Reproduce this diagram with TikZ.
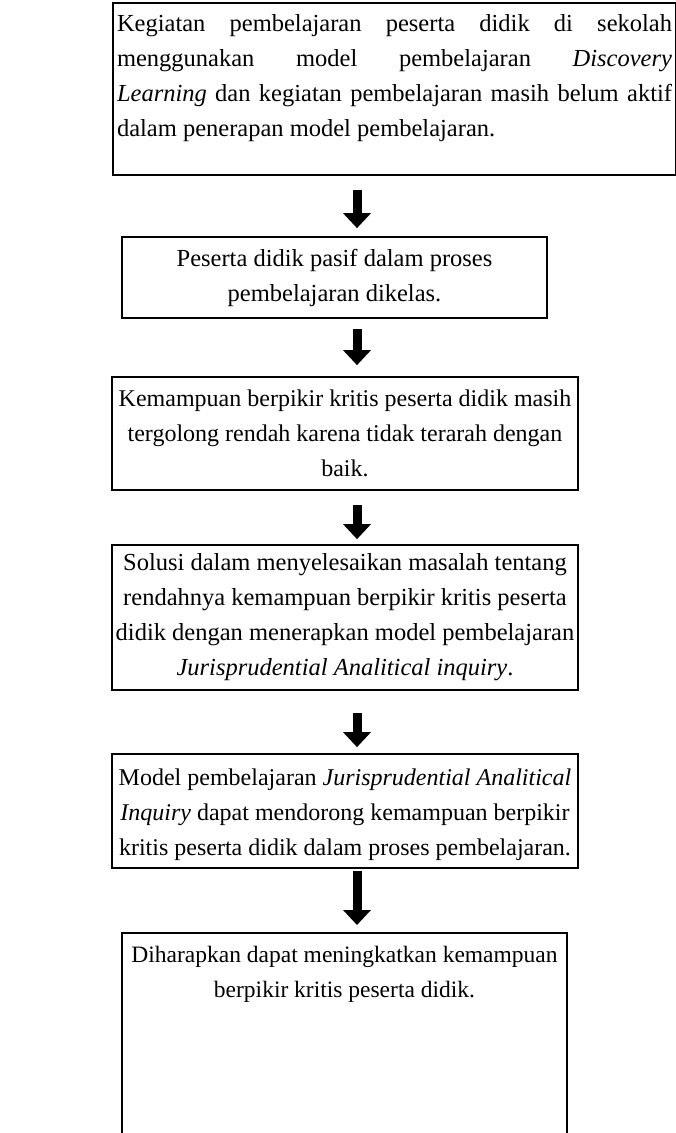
\documentclass[tikz,border=0pt]{standalone}
\usepackage{fontspec}
\setmainfont{Liberation Serif}
\usetikzlibrary{arrows.meta,calc}
\begin{document}
\begin{tikzpicture}[x=1pt,y=-1pt,
  box/.style={draw, line width=1.7pt, inner xsep=0pt, inner ysep=0pt, align=center,
    font=\fontsize{24}{35}\selectfont},
  arr/.style={line width=9pt, -{Triangle[width=27pt,length=15pt]}}]
\useasboundingbox (0,0) rectangle (676,1133);
\fill[white] (0,0) rectangle (676,1133);
\coordinate (ax) at (357,0);
\node[box, font=\fontsize{24.5}{35}\selectfont, align=left, minimum width=563pt, minimum height=172pt] (b1) at (394.5,89)
  {\makebox[555pt][s]{Kegiatan pembelajaran peserta didik di sekolah}\\
   \makebox[555pt][s]{menggunakan model pembelajaran \textit{Discovery}}\\
   \makebox[555pt][s]{\textit{Learning} dan kegiatan pembelajaran masih belum aktif}\\
   \makebox[555pt][l]{dalam penerapan model pembelajaran.}\rule[-28pt]{0pt}{0pt}};
\node[box, font=\fontsize{24.5}{35}\selectfont, minimum width=425pt, minimum height=81pt] (b2) at (334.5,277.5)
  {Peserta didik pasif dalam proses\\ pembelajaran dikelas.};
\node[box, minimum width=466pt, minimum height=113pt] (b3) at (345,433.5)
  {Kemampuan berpikir kritis peserta didik masih\\ tergolong rendah karena tidak terarah dengan\\ baik.};
\node[box, font=\fontsize{24.5}{35}\selectfont, minimum width=466pt, minimum height=145pt] (b4) at (345,617.5)
  {Solusi dalam menyelesaikan masalah tentang\\ rendahnya kemampuan berpikir kritis peserta\\ didik dengan menerapkan model pembelajaran\\ \textit{Jurisprudential Analitical inquiry}.};
\node[box, minimum width=466pt, minimum height=114pt] (b5) at (345,811)
  {\rule{0pt}{25pt}Model pembelajaran \textit{Jurisprudential Analitical}\\ \textit{Inquiry} dapat mendorong kemampuan berpikir\\ kritis peserta didik dalam proses pembelajaran.};
\node[box, font=\fontsize{23.5}{35}\selectfont, minimum width=445pt, inner ysep=13pt, anchor=north] (b6) at (344.5,932)
  {Diharapkan dapat meningkatkan kemampuan\\ berpikir kritis peserta didik.\rule[-200pt]{0pt}{0pt}};
\draw[arr] ($(b1.south -| ax)+(0,14)$) -- ($(b2.north -| ax)+(0,-8)$);
\draw[arr] ($(b2.south -| ax)+(0,10)$) -- ($(b3.north -| ax)+(0,-11)$);
\draw[arr] ($(b3.south -| ax)+(0,14)$) -- ($(b4.north -| ax)+(0,-5)$);
\draw[arr] ($(b4.south -| ax)+(0,22)$) -- ($(b5.north -| ax)+(0,-6)$);
\draw[arr] ($(b5.south -| ax)+(0,2)$) -- ($(b6.north -| ax)+(0,-7)$);
\end{tikzpicture}
\end{document}
